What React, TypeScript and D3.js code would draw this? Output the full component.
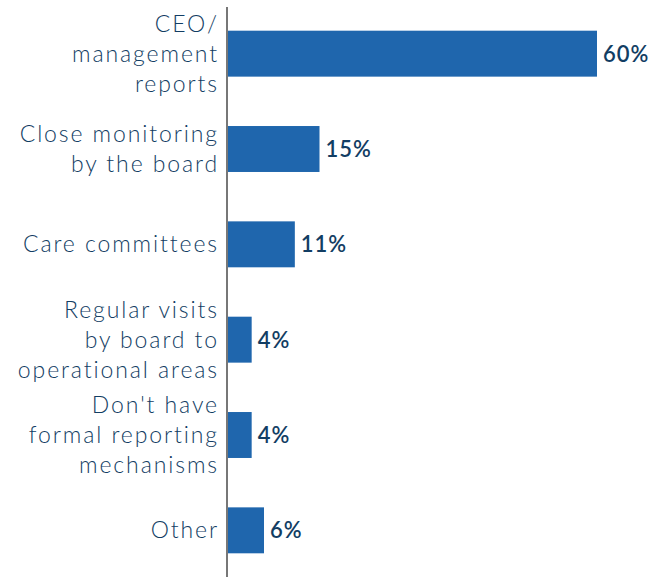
import React from 'react'
import * as d3 from 'd3'

const categories = [
  'CEO/ management reports',
  'Close monitoring by the board',
  'Care committees',
  'Regular visits by board to operational areas',
  "Don't have formal reporting mechanisms",
  'Other',
]

const labelLines = [
  ['CEO/', 'management', 'reports'],
  ['Close monitoring', 'by the board'],
  ['Care committees'],
  ['Regular visits', 'by board to', 'operational areas'],
  ["Don't have", 'formal reporting', 'mechanisms'],
  ['Other'],
]

const values = [60, 15, 11, 4, 4, 6]

const width = 654
const height = 577
const barColor = '#1f66ad'
const textColor = '#123d63'
const font = "Lato, 'Noto Sans', sans-serif"

export default function App() {
  const y = d3.scaleBand<string>().domain(categories).range([6, 578]).paddingInner(0.518).paddingOuter(0.259)
  const x = d3.scaleLinear().domain([0, 60]).range([227, 597])
  const lineH = 30

  return (
    <div style={{ position: 'absolute', left: 0, top: 0 }}>
      <svg width={width} height={height} style={{ display: 'block', background: '#fff' }}>
        {categories.map((c, i) => {
          const yc = (y(c) as number) + y.bandwidth() / 2
          const lines = labelLines[i]
          const first = yc - ((lines.length - 1) * lineH) / 2
          return (
            <g key={c}>
              <rect x={x(0)} y={y(c)} width={x(values[i]) - x(0)} height={y.bandwidth()} fill={barColor} />
              <text
                x={x(values[i]) + 6}
                y={yc + 8}
                fill={textColor}
                fontFamily={font}
                fontSize={22}
                fontWeight={600}
                letterSpacing={1}
              >
                {values[i]}%
              </text>
              <text textAnchor="end" fill={textColor} fontFamily={font} fontSize={23} fontWeight={300} letterSpacing={1.9}>
                {lines.map((l, j) => (
                  <tspan key={j} x={219} y={first + j * lineH + 8}>
                    {l}
                  </tspan>
                ))}
              </text>
            </g>
          )
        })}
        <line x1={x(0)} x2={x(0)} y1={7} y2={height} stroke="#777" strokeWidth={2} />
      </svg>
    </div>
  )
}
